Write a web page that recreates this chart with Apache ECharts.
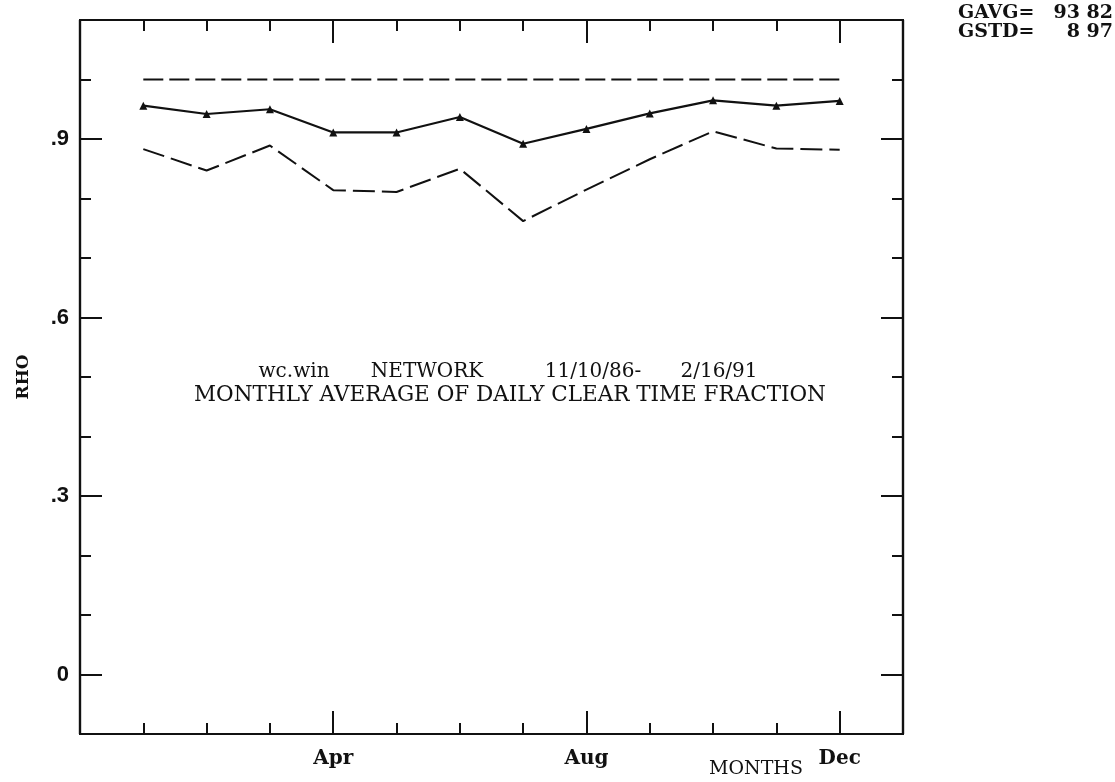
<!DOCTYPE html>
<html>
<head>
<meta charset="utf-8">
<title>RHO monthly clear time fraction</title>
<script src="https://cdn.jsdelivr.net/npm/echarts@6/dist/echarts.min.js"></script>
<style>
  html, body { margin: 0; padding: 0; background: #fff; }
  #chart { width: 1115px; height: 782px; }
</style>
</head>
<body>
<div id="chart"></div>
<script>
// Month positions on the x axis (1 = Jan ... 12 = Dec)
const months = [1, 2, 3, 4, 5, 6, 7, 8, 9, 10, 11, 12];
const monthNames = {4: 'Apr', 8: 'Aug', 12: 'Dec'};

// Monthly average of daily clear time fraction and its envelope
const rhoMean  = [0.956, 0.942, 0.950, 0.911, 0.911, 0.937, 0.892, 0.917, 0.943, 0.965, 0.956, 0.964];
const rhoLower = [0.883, 0.847, 0.889, 0.814, 0.811, 0.850, 0.762, 0.815, 0.866, 0.913, 0.884, 0.882];
const rhoUpper = [1.0, 1.0, 1.0, 1.0, 1.0, 1.0, 1.0, 1.0, 1.0, 1.0, 1.0, 1.0];

// Tick values
const yMajorTicks = [0, 0.3, 0.6, 0.9];
const yMinorTicks = [0.1, 0.2, 0.4, 0.5, 0.7, 0.8, 1.0];
const xMajorTicks = [4, 8, 12];
const xMinorTicks = [1, 2, 3, 5, 6, 7, 9, 10, 11];

// Summary statistics block (label, value)
const statLabels = ['GAVG=', 'GSTD='];
const statValues = ['93 82', '8 97'];

// Caption, first line split into its spaced fields
const captionFields = ['wc.win', 'NETWORK', '11/10/86-', '2/16/91'];
const captionLine2 = 'MONTHLY AVERAGE OF DAILY CLEAR TIME FRACTION';

const serif = 'DejaVu Serif';
const ink = '#111';

const pair = (xs, ys) => xs.map((x, i) => [x, ys[i]]);

function xAxisDef(position, ticks, len, labels) {
  return {
    type: 'value', min: 0, max: 13, position: position,
    axisLine: { show: true, onZero: false, lineStyle: { color: ink, width: 2.2 } },
    splitLine: { show: false },
    axisTick: { show: true, inside: true, length: len, customValues: ticks, lineStyle: { color: ink, width: 2 } },
    axisLabel: labels ? {
      show: true, customValues: xMajorTicks, margin: 15,
      fontFamily: serif, fontWeight: 'bold', fontSize: 20, color: ink,
      formatter: v => monthNames[v] || ''
    } : { show: false }
  };
}

function yAxisDef(position, ticks, len, labels) {
  return {
    type: 'value', min: -0.1, max: 1.1, position: position,
    axisLine: { show: true, onZero: false, lineStyle: { color: ink, width: 2.2 } },
    splitLine: { show: false },
    axisTick: { show: true, inside: true, length: len, customValues: ticks, lineStyle: { color: ink, width: 2 } },
    axisLabel: labels ? {
      show: true, customValues: yMajorTicks, margin: 11,
      fontFamily: 'Liberation Sans', fontWeight: 'bold', fontSize: 22, color: ink,
      formatter: v => v === 0 ? '0' : '.' + Math.round(v * 10)
    } : { show: false },
    name: labels ? 'RHO' : '',
    nameLocation: 'middle', nameGap: 48, nameRotate: 90,
    nameTextStyle: { fontFamily: serif, fontWeight: 'bold', fontSize: 17, color: ink }
  };
}

const chart = echarts.init(document.getElementById('chart'), null, { renderer: 'canvas' });

const captionX = [294, 427, 593, 719];
const captionText = captionFields.map((t, i) => ({
  type: 'text', x: captionX[i], y: 372,
  style: { text: t, fontFamily: serif, fontSize: 20, fill: ink, align: 'center', verticalAlign: 'middle' }
}));

const statText = [];
statLabels.forEach((t, i) => {
  statText.push({ type: 'text', x: 958, y: 13 + i * 19,
    style: { text: t, fontFamily: serif, fontWeight: 'bold', fontSize: 19, fill: ink, align: 'left', verticalAlign: 'middle' } });
  statText.push({ type: 'text', x: 1113, y: 13 + i * 19,
    style: { text: statValues[i], fontFamily: serif, fontWeight: 'bold', fontSize: 19, fill: ink, align: 'right', verticalAlign: 'middle' } });
});

chart.setOption({
  animation: false,
  backgroundColor: '#fff',
  grid: { left: 80, right: 212, top: 20, bottom: 48, containLabel: false },
  xAxis: [
    xAxisDef('bottom', xMinorTicks, 11, true),
    xAxisDef('bottom', xMajorTicks, 23, false),
    xAxisDef('top', xMinorTicks, 11, false),
    xAxisDef('top', xMajorTicks, 23, false)
  ],
  yAxis: [
    yAxisDef('left', yMinorTicks, 11, true),
    yAxisDef('left', yMajorTicks, 22, false),
    yAxisDef('right', yMinorTicks, 11, false),
    yAxisDef('right', yMajorTicks, 22, false)
  ],
  series: [
    {
      type: 'line', data: pair(months, rhoUpper), symbol: 'none',
      lineStyle: { color: ink, width: 2, type: [20, 6] }
    },
    {
      type: 'line', data: pair(months, rhoMean), symbol: 'triangle', symbolSize: 8,
      itemStyle: { color: ink },
      lineStyle: { color: ink, width: 2.2 }
    },
    {
      type: 'line', data: pair(months, rhoLower), symbol: 'none',
      lineStyle: { color: ink, width: 2, type: [22, 7] }
    }
  ],
  graphic: [
    { type: 'text', x: 756, y: 769,
      style: { text: 'MONTHS', fontFamily: serif, fontSize: 19, fill: ink, align: 'center', verticalAlign: 'middle' } },
    ...captionText,
    { type: 'text', x: 510, y: 395,
      style: { text: captionLine2, fontFamily: serif, fontSize: 21.5, fill: ink, align: 'center', verticalAlign: 'middle' } },
    ...statText
  ]
});
</script>
</body>
</html>
